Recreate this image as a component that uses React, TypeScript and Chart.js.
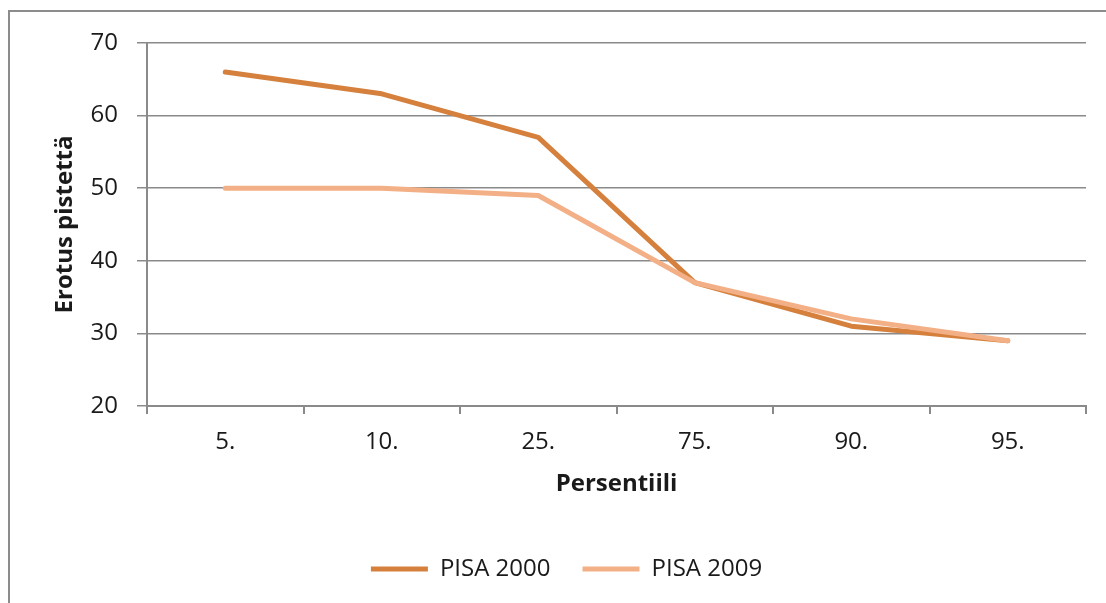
import React, { useEffect, useRef } from "react";
import { Chart, registerables } from "chart.js";

Chart.register(...registerables);

const categories = ["5.", "10.", "25.", "75.", "90.", "95."];
const pisa2000 = [66, 63, 57, 37, 31, 29];
const pisa2009 = [50, 50, 49, 37, 32, 29];
const seriesNames = ["PISA 2000", "PISA 2009"];
const yTitle = "Erotus pistettä";
const xTitle = "Persentiili";

const FONT = "'Open Sans', 'Noto Sans', sans-serif";
const GRID = "#8A8A8A";
const TEXT = "#1A1A1A";

const frame = {
  id: "frame",
  beforeDraw(chart: any) {
    const ctx = chart.ctx;
    ctx.save();
    ctx.fillStyle = "#ffffff";
    ctx.fillRect(0, 0, chart.width, chart.height);
    ctx.strokeStyle = "#8C8C8C";
    ctx.lineWidth = 2;
    ctx.beginPath();
    ctx.moveTo(8, 11);
    ctx.lineTo(chart.width, 11);
    ctx.moveTo(9, 11);
    ctx.lineTo(9, chart.height);
    ctx.stroke();
    ctx.restore();
  },
};

export default function App() {
  const ref = useRef<HTMLCanvasElement | null>(null);
  useEffect(() => {
    if (!ref.current) return;
    const chart = new Chart(ref.current, {
      type: "line",
      data: {
        labels: categories,
        datasets: [
          {
            label: seriesNames[0],
            data: pisa2000,
            borderColor: "#D5803D",
            backgroundColor: "#D5803D",
            borderWidth: 5,
            borderCapStyle: "round",
            borderJoinStyle: "round",
            pointRadius: 0,
            tension: 0,
            order: 1,
          },
          {
            label: seriesNames[1],
            data: pisa2009,
            borderColor: "#F3AF86",
            backgroundColor: "#F3AF86",
            borderWidth: 5,
            borderCapStyle: "round",
            borderJoinStyle: "round",
            pointRadius: 0,
            tension: 0,
            order: 0,
          },
        ],
      },
      options: {
        animation: false,
        responsive: false,
        layout: { padding: { left: 47, right: 20, top: 43, bottom: 12 } },
        plugins: {
          tooltip: { enabled: false },
          legend: {
            position: "bottom",
            labels: {
              usePointStyle: true,
              pointStyle: "line",
              pointStyleWidth: 57,
              boxHeight: 5,
              padding: 32,
              color: TEXT,
              font: { family: FONT, size: 24 },
              sort: (a: any, b: any) => a.datasetIndex - b.datasetIndex,
            },
          },
        },
        scales: {
          x: {
            offset: true,
            grid: {
              offset: true,
              drawOnChartArea: false,
              drawTicks: true,
              tickLength: 8,
              color: GRID,
              lineWidth: 2,
            },
            border: { color: GRID, width: 2 },
            ticks: {
              padding: 14,
              color: TEXT,
              font: { family: FONT, size: 24 },
              maxRotation: 0,
            },
            title: {
              display: true,
              text: xTitle,
              color: TEXT,
              font: { family: FONT, size: 24, weight: "bold" },
              padding: { top: 0, bottom: 26 },
            },
            afterFit: (s: any) => {
              s.height = 119;
            },
          },
          y: {
            min: 20,
            max: 70,
            ticks: {
              stepSize: 10,
              padding: 19,
              color: TEXT,
              font: { family: FONT, size: 24 },
            },
            grid: {
              color: GRID,
              lineWidth: 1.5,
              tickLength: 10,
            },
            border: { color: GRID, width: 2 },
            title: {
              display: true,
              text: yTitle,
              color: TEXT,
              font: { family: FONT, size: 24, weight: "bold" },
              padding: { top: 4, bottom: 0 },
            },
            afterFit: (s: any) => {
              s.width = 100;
            },
          },
        },
      },
      plugins: [frame],
    });
    return () => chart.destroy();
  }, []);
  return (
    <div style={{ position: "fixed", left: 0, top: 0, width: 1106, height: 603 }}>
      <canvas ref={ref} width={1106} height={603} style={{ width: 1106, height: 603 }} />
    </div>
  );
}
